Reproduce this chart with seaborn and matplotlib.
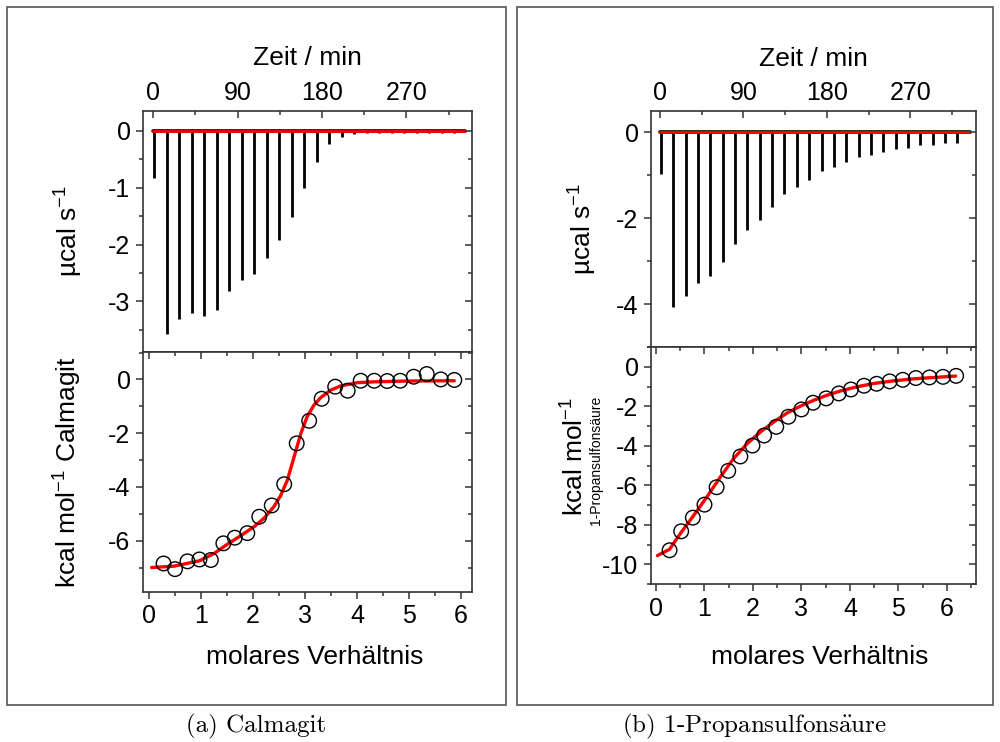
import matplotlib
matplotlib.use('Agg')
import matplotlib.pyplot as plt
from matplotlib.patches import Rectangle
from matplotlib.ticker import MultipleLocator
import pandas as pd
import seaborn as sns

# injection times (min), same schedule for both titrations
inj_time = [1.0, 14.3, 27.7, 41.0, 54.3, 67.7, 81.0, 94.3, 107.7, 121.0, 134.3,
            147.7, 161.0, 174.3, 187.7, 201.0, 214.3, 227.7, 241.0, 254.3,
            267.7, 281.0, 294.3, 307.7, 321.0]

# raw heat peaks (ucal/s)
calm_peaks = [-0.83, -3.57, -3.31, -3.20, -3.25, -3.15, -2.82, -2.62, -2.52,
              -2.24, -1.92, -1.52, -1.01, -0.54, -0.23, -0.11, -0.06, -0.04,
              -0.03, -0.03, -0.03, -0.03, -0.03, -0.03, -0.03]
prop_peaks = [-0.98, -4.06, -3.81, -3.51, -3.34, -3.03, -2.60, -2.28, -2.05,
              -1.74, -1.43, -1.28, -1.12, -0.91, -0.81, -0.70, -0.57, -0.53,
              -0.47, -0.40, -0.36, -0.31, -0.29, -0.26, -0.25]

# integrated heats (kcal/mol)
calm_ratio = [0.28, 0.50, 0.74, 0.97, 1.19, 1.43, 1.65, 1.89, 2.12, 2.36, 2.60,
              2.84, 3.08, 3.32, 3.58, 3.82, 4.07, 4.33, 4.58, 4.83, 5.09, 5.34,
              5.61, 5.87]
calm_heat = [-6.85, -7.06, -6.77, -6.70, -6.72, -6.10, -5.89, -5.72, -5.11,
             -4.69, -3.90, -2.38, -1.54, -0.72, -0.27, -0.42, -0.05, -0.05,
             -0.06, -0.05, 0.10, 0.20, 0.00, -0.02]
prop_ratio = [0.28, 0.52, 0.76, 1.00, 1.25, 1.49, 1.74, 1.99, 2.23, 2.48, 2.73,
              3.00, 3.24, 3.51, 3.77, 4.02, 4.29, 4.55, 4.82, 5.09, 5.36, 5.64,
              5.92, 6.19]
prop_heat = [-9.29, -8.33, -7.64, -6.98, -6.10, -5.27, -4.54, -3.99, -3.48,
             -3.04, -2.53, -2.16, -1.82, -1.60, -1.35, -1.15, -0.96, -0.86,
             -0.74, -0.66, -0.57, -0.54, -0.51, -0.46]

# fit curves
calm_fit_x = [0.05, 0.48, 0.97, 1.25, 1.51, 1.76, 2.02, 2.21, 2.40, 2.53, 2.66,
              2.79, 2.92, 3.04, 3.17, 3.30, 3.49, 3.69, 4.01, 4.33, 4.97, 5.87]
calm_fit_y = [-7.00, -6.95, -6.75, -6.48, -6.13, -5.82, -5.48, -5.17, -4.74,
              -4.33, -3.75, -2.88, -2.01, -1.39, -0.96, -0.68, -0.40, -0.24,
              -0.12, -0.09, -0.06, -0.05]
prop_fit_x = [0.03, 0.28, 0.50, 0.78, 1.05, 1.33, 1.60, 1.88, 2.16, 2.43, 2.71,
              2.98, 3.26, 3.53, 3.81, 4.15, 4.50, 4.91, 5.32, 5.74, 6.18]
prop_fit_y = [-9.56, -9.24, -8.45, -7.52, -6.59, -5.57, -4.65, -3.89, -3.29,
              -2.79, -2.33, -1.99, -1.69, -1.44, -1.22, -1.01, -0.84, -0.71,
              -0.61, -0.54, -0.47]

calm_base_t = [-0.7, 333.0]
prop_base_t = [0.0, 335.0]

sns.set_style('white')
plt.rcParams['font.family'] = ['Liberation Sans', 'DejaVu Sans']
plt.rcParams['mathtext.fontset'] = 'custom'
plt.rcParams['mathtext.rm'] = 'Liberation Sans'
plt.rcParams['mathtext.it'] = 'Liberation Sans'
plt.rcParams['mathtext.default'] = 'regular'
plt.rcParams['axes.unicode_minus'] = False
plt.rcParams['text.color'] = 'black'
plt.rcParams['axes.labelcolor'] = 'black'
plt.rcParams['xtick.color'] = 'black'
plt.rcParams['ytick.color'] = 'black'

fig = plt.figure(figsize=(10, 7.42), dpi=100)
fig.patch.set_facecolor('white')

TICK = 18
LAB = 19
SPINE = '#333333'


def mirror(ax, xminor, yminor, ymajor, top_panel):
    # inward ticks on the right (and on top for the lower panels)
    ax2 = ax.twinx()
    ax2.set_ylim(ax.get_ylim())
    ax2.yaxis.set_major_locator(MultipleLocator(ymajor))
    ax2.yaxis.set_minor_locator(MultipleLocator(yminor))
    ax2.tick_params(axis='y', which='both', direction='in', labelright=False,
                    color=SPINE, width=1.1)
    ax2.tick_params(which='major', length=5)
    ax2.tick_params(which='minor', length=3)
    for s in ax2.spines.values():
        s.set_visible(False)
    if not top_panel:
        ax3 = ax.twiny()
        ax3.set_xlim(ax.get_xlim())
        ax3.xaxis.set_major_locator(MultipleLocator(1))
        ax3.xaxis.set_minor_locator(MultipleLocator(xminor))
        ax3.tick_params(axis='x', which='both', direction='in', labeltop=False,
                        color=SPINE, width=1.1)
        ax3.tick_params(which='major', length=5)
        ax3.tick_params(which='minor', length=3)
        for s in ax3.spines.values():
            s.set_visible(False)


def raw_panel(rect, times, peaks, base_t, xlim, ylim, ymajor, yminor, ylab_x):
    ax = fig.add_axes(rect)
    ax.vlines(times, 0, peaks, color='black', lw=2.0)
    ax.plot(base_t, [0, 0], color='black', lw=2.6)
    sns.lineplot(x=base_t, y=[0, 0], color='red', lw=2, ax=ax)
    ax.set_xlim(xlim)
    ax.set_ylim(ylim)
    ax.xaxis.set_major_locator(MultipleLocator(90))
    ax.xaxis.set_minor_locator(MultipleLocator(45))
    ax.yaxis.set_major_locator(MultipleLocator(ymajor))
    ax.yaxis.set_minor_locator(MultipleLocator(yminor))
    for s in ax.spines.values():
        s.set_color(SPINE)
        s.set_linewidth(1.2)
    ax.tick_params(axis='y', which='both', direction='out', labelsize=TICK,
                   color=SPINE, width=1.1)
    ax.tick_params(axis='x', which='both', direction='in', top=True, bottom=False,
                   labeltop=True, labelbottom=False, labelsize=TICK,
                   color=SPINE, width=1.1)
    ax.tick_params(which='major', length=5, pad=4)
    ax.tick_params(which='minor', length=3)
    ax.xaxis.set_label_position('top')
    ax.set_xlabel('Zeit / min', fontsize=LAB, va='center')
    ax.xaxis.set_label_coords(0.5, 1.22)
    ax.set_ylabel('µcal s$^{-1}$', fontsize=LAB, va='center')
    ax.yaxis.set_label_coords(ylab_x, 0.5)
    mirror(ax, 45, yminor, ymajor, True)
    return ax


def heat_panel(rect, rx, ry, fx, fy, xlim, ylim, ymajor, yminor):
    ax = fig.add_axes(rect)
    sns.lineplot(x=fx, y=fy, color='red', lw=2.4, ax=ax, sort=False, zorder=3)
    df = pd.DataFrame({'ratio': rx, 'heat': ry})
    sns.scatterplot(data=df, x='ratio', y='heat', ax=ax, s=110, marker='o',
                    facecolors='none', edgecolor='black', linewidth=1.0, zorder=4)
    ax.set_xlim(xlim)
    ax.set_ylim(ylim)
    ax.xaxis.set_major_locator(MultipleLocator(1))
    ax.xaxis.set_minor_locator(MultipleLocator(0.5))
    ax.yaxis.set_major_locator(MultipleLocator(ymajor))
    ax.yaxis.set_minor_locator(MultipleLocator(yminor))
    for s in ax.spines.values():
        s.set_color(SPINE)
        s.set_linewidth(1.2)
    ax.tick_params(axis='both', which='both', direction='out', labelsize=TICK,
                   color=SPINE, width=1.1)
    ax.tick_params(which='major', length=5, pad=4)
    ax.tick_params(which='minor', length=3)
    ax.set_xlabel('molares Verhältnis', fontsize=LAB, va='center')
    mirror(ax, 0.5, yminor, ymajor, False)
    return ax


# (a) Calmagit
raw_panel([0.143, 0.5256, 0.329, 0.3248], inj_time, calm_peaks, calm_base_t,
          (-11, 340), (-3.89, 0.35), 1, 0.5, -0.225)
axb = heat_panel([0.143, 0.2022, 0.329, 0.3234], calm_ratio, calm_heat,
                 calm_fit_x, calm_fit_y, (-0.115, 6.21), (-7.91, 1.02), 2, 1)
axb.xaxis.set_label_coords(0.523, -0.27)
axb.set_ylabel('kcal mol$^{-1}$ Calmagit', fontsize=LAB, va='center')
axb.yaxis.set_label_coords(-0.228, 0.5)

# (b) 1-Propansulfonsäure
raw_panel([0.651, 0.5323, 0.325, 0.3181], inj_time, prop_peaks, prop_base_t,
          (-9.7, 341), (-5.0, 0.49), 2, 1, -0.21)
axd = heat_panel([0.651, 0.2129, 0.325, 0.3194], prop_ratio, prop_heat,
                 prop_fit_x, prop_fit_y, (-0.103, 6.6), (-11.0, 1.0), 2, 1)
axd.xaxis.set_label_coords(0.52, -0.308)
axd.set_ylabel('kcal mol$^{-1}$', fontsize=LAB, va='center')
axd.yaxis.set_label_coords(-0.234, 0.54)
axd.text(-0.17, 0.52, '1-Propansulfonsäure', transform=axd.transAxes,
         rotation=90, ha='center', va='center', fontsize=10)

# outer frames and captions
for x0, w in [(0.007, 0.499), (0.517, 0.476)]:
    fig.add_artist(Rectangle((x0, 0.0499), w, 0.9407, transform=fig.transFigure,
                             fill=False, edgecolor='#555555', lw=1.2))
fig.text(0.256, 0.021, '(a) Calmagit', ha='center', va='center', fontsize=18,
         family='cmr10')
fig.text(0.755, 0.021, r'(b) 1-Propansulfons$\ddot{\mathrm{a}}$ure', ha='center',
         va='center', fontsize=18, family='cmr10', math_fontfamily='cm')

fig.savefig('out.png', dpi=100, facecolor='white')
